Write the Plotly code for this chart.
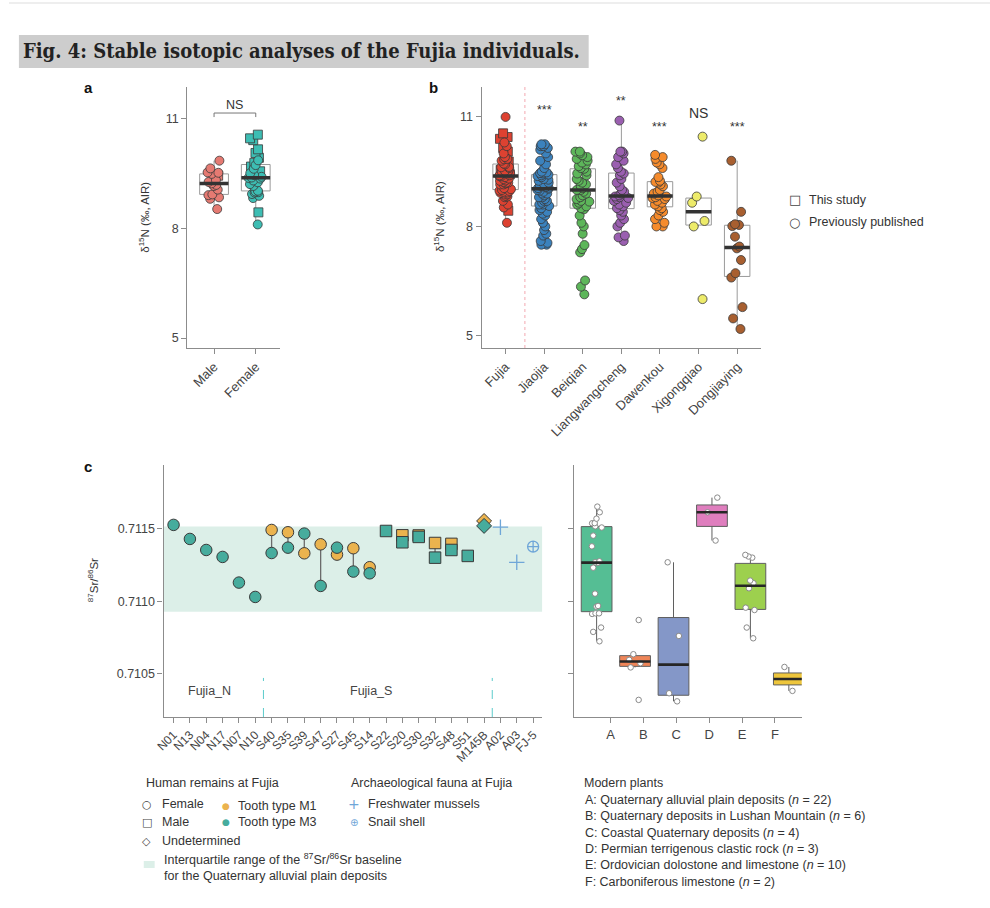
import numpy as np
import plotly.graph_objects as go

W, H = 990, 908
def px(x): return x / W
def py(y): return 1 - y / H

# ---------------- data: panel a (Fujia, by sex) ----------------
sex_groups = ["Male", "Female"]
male_circle = [9.84, 9.63, 9.52, 9.51, 9.48, 9.31, 9.26, 9.22, 9.18, 9.15, 9.05, 8.92, 8.90, 8.84, 8.80, 8.52]
male_square = [9.43]
female_square = [10.55, 10.45, 10.40, 10.15, 10.05, 9.92, 9.78, 9.68, 9.55, 9.30, 8.43]
female_circle = [9.85, 9.72, 9.62, 9.50, 9.45, 9.40, 9.38, 9.37, 9.35, 9.30, 9.25, 9.20, 9.15, 9.02,
                 8.98, 9.00, 8.97, 8.93, 8.88, 8.82, 8.10]
fujia_undetermined = [11.0, 10.3, 10.2, 10.0, 9.9, 9.8, 9.7, 9.6, 9.45, 9.4, 9.2, 8.95, 8.7, 8.6]

# ---------------- data: panel b (sites) ----------------
sites = ["Fujia", "Jiaojia", "Beiqian", "Liangwangcheng", "Dawenkou", "Xigongqiao", "Dongjiaying"]
jiaojia = [10.25, 10.25, 10.2, 10.2, 10.15, 10.1, 10.0, 9.9, 9.8, 9.7, 9.6, 9.5, 9.48, 9.46, 9.45, 9.42,
           9.4, 9.38, 9.35, 9.3, 9.28, 9.25, 9.2, 9.18, 9.15, 9.12, 9.1, 9.08, 9.06, 9.05, 9.03,
           9.0, 8.98, 8.95, 8.9, 8.9, 8.85, 8.8, 8.8, 8.75, 8.7, 8.7, 8.65, 8.6, 8.6, 8.56, 8.5,
           8.45, 8.4, 8.35, 8.3, 8.2, 8.1, 8.0, 7.9, 7.8, 7.75, 7.6, 7.55, 7.5, 7.5]
beiqian = [10.05, 10.05, 10.0, 9.95, 9.9, 9.85, 9.8, 9.75, 9.7, 9.65, 9.6, 9.58, 9.5, 9.45, 9.4, 9.3,
           9.25, 9.2, 9.15, 9.1, 9.05, 9.0, 9.0, 8.95, 8.9, 8.85, 8.8, 8.75, 8.7, 8.68, 8.65, 8.6,
           8.55, 8.5, 8.47, 8.3, 8.1, 8.0, 7.8, 7.49, 7.38, 7.29, 6.52, 6.35, 6.14]
liangwangcheng = [10.9, 10.05, 10.05, 10.0, 9.9, 9.8, 9.7, 9.6, 9.5, 9.45, 9.4, 9.3, 9.2, 9.1, 9.0,
                  8.95, 8.9, 8.85, 8.82, 8.8, 8.78, 8.75, 8.7, 8.65, 8.6, 8.55, 8.5, 8.45, 8.4, 8.3,
                  8.2, 8.1, 8.0, 7.75, 7.7, 7.6]
dawenkou = [9.96, 9.9, 9.85, 9.75, 9.7, 9.6, 9.35, 9.25, 9.22, 9.2, 9.15, 9.1, 9.0, 8.95, 8.9, 8.85,
            8.82, 8.8, 8.78, 8.75, 8.7, 8.65, 8.6, 8.55, 8.5, 8.45, 8.4, 8.3, 8.2, 8.1, 8.0, 8.0]
xigongqiao = [10.46, 8.82, 8.65, 8.15, 8.0, 6.01]
dongjiaying = [9.8, 8.4, 8.06, 8.04, 8.01, 7.72, 7.45, 7.4, 7.08, 6.72, 6.6, 5.79, 5.48, 5.19]
site_sig = ["", "***", "**", "**", "***", "NS", "***"]
site_sig_y = [None, 11.2, 10.73, 11.45, 10.73, 11.12, 10.73]

# ---------------- data: panel c (Sr isotopes) ----------------
individuals = ["N01", "N13", "N04", "N17", "N07", "N10", "S40", "S35", "S39", "S47", "S27", "S45",
               "S14", "S22", "S20", "S30", "S32", "S48", "S51", "M145B", "A02", "A03", "FJ-5"]
ind_sex = ["F"] * 13 + ["M"] * 6 + ["U"] + [None] * 3
sr_m1 = [None, None, None, None, None, None, 0.711493, 0.711477, 0.711332, 0.711394, 0.711323,
         0.711367, 0.711236, None, 0.711456, 0.711455, 0.711403, 0.711397, None, 0.711555,
         None, None, None]
sr_m3 = [0.711528, 0.711431, 0.711355, 0.711307, 0.711130, 0.711031, 0.711334, 0.711371, 0.711468,
         0.711107, 0.711371, 0.711206, 0.711194, 0.711486, 0.711408, 0.711445, 0.711302, 0.711355,
         0.711314, 0.711521, None, None, None]
fauna_ids = ["A02", "A03", "FJ-5"]
fauna_type = ["mussel", "mussel", "snail"]
fauna_sr = [0.711512, 0.711270, 0.711378]

plant_letters = ["A", "B", "C", "D", "E", "F"]
plant_names = ["Quaternary alluvial plain deposits", "Quaternary deposits in Lushan Mountain",
               "Coastal Quaternary deposits", "Permian terrigenous clastic rock",
               "Ordovician dolostone and limestone", "Carboniferous limestone"]
plant_sr = [
    [0.711654, 0.711615, 0.711571, 0.711539, 0.711540, 0.711510, 0.711518, 0.711454, 0.711380,
     0.711277, 0.711266, 0.711270, 0.711233, 0.711054, 0.710969, 0.710964, 0.710918, 0.710918,
     0.710914, 0.710820, 0.710790, 0.710725],
    [0.710872, 0.710636, 0.710597, 0.710574, 0.710545, 0.710321],
    [0.711270, 0.710762, 0.710367, 0.710311],
    [0.711716, 0.711615, 0.711420],
    [0.711321, 0.711310, 0.711302, 0.711144, 0.711126, 0.711091, 0.710941, 0.710957, 0.710820, 0.710746],
    [0.710548, 0.710383],
]

# ---------------- styles ----------------
FONT = "Liberation Sans, Arial, sans-serif"
SYM = "DejaVu Sans, Liberation Sans, sans-serif"
male_col, female_col = "#E57A72", "#3DBDB3"
site_cols = ["#DD4231", "#3B82BD", "#5DB65A", "#9A5FB0", "#F58B2C", "#EDEB6A", "#A85F30"]
m1_col, m3_col = "#EBB34E", "#46AC9D"
fauna_col = "#6FA6D8"
plant_cols = ["#55BE94", "#EF8558", "#8497C8", "#DF7EBE", "#9DD04E", "#EEC63C"]
outline = "#3a3a3a"

fig = go.Figure()


def box_stats(v):
    a = np.asarray(v, float)
    q1, med, q3 = np.percentile(a, [25, 50, 75])
    iqr = q3 - q1
    lf = a[a >= q1 - 1.5 * iqr].min()
    uf = a[a <= q3 + 1.5 * iqr].max()
    return q1, med, q3, lf, uf


def add_box(i, vals, xa, ya, width, fill, line_color, med_color, med_width):
    q1, med, q3, lf, uf = box_stats(vals)
    fig.add_trace(go.Box(x=[i], q1=[q1], median=[med], q3=[q3], lowerfence=[lf], upperfence=[uf],
                         width=width, fillcolor=fill, line=dict(color=line_color, width=1),
                         whiskerwidth=0, boxpoints=False, xaxis=xa, yaxis=ya,
                         showlegend=False, hoverinfo="skip"))
    fig.add_trace(go.Scatter(x=[i - width / 2, i + width / 2], y=[med, med], mode="lines",
                             line=dict(color=med_color, width=med_width), xaxis=xa, yaxis=ya,
                             showlegend=False, hoverinfo="skip"))


def add_points(i, vals, xa, ya, width, color, symbol, size, jitter, lcol=outline, lw=0.8):
    if not vals:
        return
    fig.add_trace(go.Box(x=[i] * len(vals), y=vals, boxpoints="all", pointpos=0, jitter=jitter,
                         width=width, fillcolor="rgba(0,0,0,0)",
                         line=dict(color="rgba(0,0,0,0)", width=0),
                         marker=dict(color=color, symbol=symbol, size=size,
                                     line=dict(color=lcol, width=lw)),
                         xaxis=xa, yaxis=ya, showlegend=False, hoverinfo="skip"))


# ---------------- panel a ----------------
a_groups = [(male_circle + male_square, male_circle, male_square, male_col),
            (female_circle + female_square, female_circle, female_square, female_col)]
for i, (allv, circ, sq, col) in enumerate(a_groups):
    add_box(i, allv, "x", "y", 0.69, "rgba(255,255,255,0)", "#9a9a9a", "#333333", 3.5)
    add_points(i, sq, "x", "y", 0.69, col, "square", 9, 0.55)
    add_points(i, circ, "x", "y", 0.69, col, "circle", 9, 0.55)

# ---------------- panel b ----------------
fujia_sq = male_square + female_square
fujia_circ = male_circle + female_circle + fujia_undetermined
site_vals = [fujia_sq + fujia_circ, jiaojia, beiqian, liangwangcheng, dawenkou, xigongqiao, dongjiaying]
for i, vals in enumerate(site_vals):
    add_box(i, vals, "x2", "y2", 0.66, "rgba(255,255,255,0)", "#9a9a9a", "#333333", 3.5)
    if i == 0:
        add_points(i, fujia_sq, "x2", "y2", 0.66, site_cols[i], "square", 9, 0.6)
        add_points(i, fujia_circ, "x2", "y2", 0.66, site_cols[i], "circle", 9, 0.6)
    else:
        add_points(i, vals, "x2", "y2", 0.66, site_cols[i], "circle", 9, 0.6)

# ---------------- panel c left ----------------
sym_map = {"F": "circle", "M": "square", "U": "diamond"}
lx, ly = [], []
for name, a, b in zip(individuals, sr_m1, sr_m3):
    if a is not None and b is not None:
        lx += [name, name, None]
        ly += [a, b, None]
fig.add_trace(go.Scatter(x=lx, y=ly, mode="lines", line=dict(color="#6b6b6b", width=1.3),
                         xaxis="x3", yaxis="y3", showlegend=False, hoverinfo="skip"))
for vals, col in [(sr_m1, m1_col), (sr_m3, m3_col)]:
    xs = [n for n, v in zip(individuals, vals) if v is not None]
    ys = [v for v in vals if v is not None]
    syms = [sym_map[s] for s, v in zip(ind_sex, vals) if v is not None]
    fig.add_trace(go.Scatter(x=xs, y=ys, mode="markers",
                             marker=dict(color=col, symbol=syms, size=11.5,
                                         line=dict(color=outline, width=1)),
                             xaxis="x3", yaxis="y3", showlegend=False, hoverinfo="skip"))
fsym = {"mussel": "cross-thin", "snail": "circle-cross-open"}
fig.add_trace(go.Scatter(x=fauna_ids, y=fauna_sr, mode="markers",
                         marker=dict(color=fauna_col, symbol=[fsym[t] for t in fauna_type], size=11,
                                     line=dict(color=fauna_col, width=1.3)),
                         xaxis="x3", yaxis="y3", showlegend=False, hoverinfo="skip"))

# ---------------- panel c right ----------------
for i, vals in enumerate(plant_sr):
    add_box(i, vals, "x4", "y4", 0.8, plant_cols[i], "#5f5f5f", "#262626", 2.6)
    add_points(i, vals, "x4", "y4", 0.8, "white", "circle", 5.5, 0.45, lcol="#8a8a8a", lw=1)
# invisible trace to carry the category tick axis
fig.add_trace(go.Scatter(x=plant_letters, y=[None] * len(plant_letters), mode="markers",
                         xaxis="x5", yaxis="y4", showlegend=False, hoverinfo="skip"))

# ---------------- layout ----------------
ax = dict(showline=True, linecolor="#8c8c8c", linewidth=1.2, ticks="outside", tickcolor="#8c8c8c",
          ticklen=5, tickwidth=1.2, showgrid=False, zeroline=False,
          tickfont=dict(size=12.5, color="#444", family=FONT))

ya_dom = [py(348), py(87)]
yc_dom = [py(717), py(465)]

layout = dict(
    width=W, height=H, margin=dict(l=0, r=0, t=0, b=0), autosize=False,
    paper_bgcolor="white", plot_bgcolor="white", font=dict(family=FONT, color="#333"),
    boxmode="overlay",
    xaxis=dict(ax, domain=[px(180), px(273)], range=[-0.64, 1.57], tickvals=list(range(len(sex_groups))),
               ticktext=sex_groups, tickangle=-45, anchor="y",
               tickfont=dict(size=13, color="#444", family=FONT)),
    yaxis=dict(ax, domain=ya_dom, range=[4.73, 11.85], tickvals=[5, 8, 11], anchor="x"),
    xaxis2=dict(ax, domain=[px(477), px(759)], range=[-0.62, 6.62], tickvals=list(range(len(sites))),
                ticktext=sites, tickangle=-45, anchor="y2",
                tickfont=dict(size=13, color="#444", family=FONT)),
    yaxis2=dict(ax, domain=ya_dom, range=[4.67, 11.82], tickvals=[5, 8, 11], anchor="x2"),
    xaxis3=dict(ax, domain=[px(156), px(538)], type="category", categoryorder="array",
                categoryarray=individuals, range=[-0.61, 22.55], tickangle=-45,
                tickfont=dict(size=12, color="#444", family=FONT), anchor="y3"),
    yaxis3=dict(ax, domain=yc_dom, range=[0.710203, 0.711941], tickvals=[0.7105, 0.711, 0.7115],
                tickformat=".4f", anchor="x3"),
    xaxis4=dict(ax, domain=[px(570), px(800)], range=[-0.593, 5.335], showticklabels=False,
                ticks="", anchor="y4"),
    yaxis4=dict(ax, domain=yc_dom, range=[0.710203, 0.711941], tickvals=[0.7105, 0.711, 0.7115],
                showticklabels=False, anchor="x4"),
    xaxis5=dict(ax, domain=[px(570), px(800)], type="category", categoryorder="array",
                categoryarray=plant_letters, range=[-1.114, 5.813], showline=False,
                overlaying="x4", anchor="y4", tickfont=dict(size=13, color="#444", family=FONT)),
)

shapes = []
annotations = []

# top rule and title bar
shapes.append(dict(type="line", xref="paper", yref="paper", x0=0, x1=1, y0=py(3), y1=py(3),
                   line=dict(color="#dddddd", width=1)))
shapes.append(dict(type="rect", xref="paper", yref="paper", x0=px(10), x1=px(585), y0=py(68), y1=py(35),
                   fillcolor="#cdcdcd", line=dict(width=0), layer="below"))
annotations.append(dict(text="<b>Fig. 4: Stable isotopic analyses of the Fujia individuals.</b>",
                        xref="paper", yref="paper", x=px(12), y=py(51), xanchor="left", yanchor="middle",
                        showarrow=False,
                        font=dict(family="DejaVu Serif Condensed, DejaVu Serif, serif", size=20, color="#222")))

# panel letters
for t, x, y in [("a", 80, 88), ("b", 428, 88), ("c", 80, 466)]:
    annotations.append(dict(text=f"<b>{t}</b>", xref="paper", yref="paper", x=px(x), y=py(y),
                            xanchor="center", yanchor="middle", showarrow=False,
                            font=dict(size=15, color="#111", family=FONT)))

# y titles
for t, x, y in [("δ<sup>15</sup>N (‰, AIR)", 136, 217), ("δ<sup>15</sup>N (‰, AIR)", 434, 217),
                ("<sup>87</sup>Sr/<sup>86</sup>Sr", 85, 580)]:
    annotations.append(dict(text=t, xref="paper", yref="paper", x=px(x), y=py(y), textangle=-90,
                            xanchor="center", yanchor="middle", showarrow=False,
                            font=dict(size=11.5, color="#333", family=FONT)))

# panel a NS bracket
shapes.append(dict(type="path", xref="x", yref="y", path="M 0,11.03 L 0,11.14 L 1,11.14 L 1,11.03",
                   line=dict(color="#777", width=1)))
annotations.append(dict(text="NS", xref="x", yref="y", x=0.5, y=11.36, showarrow=False,
                        font=dict(size=12.5, color="#333")))

# panel b significance + divider
for i, (s, y) in enumerate(zip(site_sig, site_sig_y)):
    if s:
        annotations.append(dict(text=s, xref="x2", yref="y2", x=i, y=y, showarrow=False,
                                yanchor="middle",
                                font=dict(size=14 if s == "NS" else 12.5, color="#333")))
shapes.append(dict(type="line", xref="x2", yref="y2 domain", x0=0.5, x1=0.5, y0=0, y1=1,
                   line=dict(color="#f3a9b1", width=1, dash="dot")))

# panel b legend
for sym, t, y in [("□", "This study", 200), ("○", "Previously published", 222)]:
    annotations.append(dict(text=sym, xref="paper", yref="paper", x=px(793), y=py(y), showarrow=False,
                            xanchor="center", yanchor="middle", font=dict(size=13, family=SYM, color="#444")))
    annotations.append(dict(text=t, xref="paper", yref="paper", x=px(805), y=py(y), showarrow=False,
                            xanchor="left", yanchor="middle", font=dict(size=12.5, color="#333")))

# panel c baseline band (IQR of group A) and group dividers
qa1, _, qa3, _, _ = box_stats(plant_sr[0])
shapes.append(dict(type="rect", xref="x3 domain", yref="y3", x0=0, x1=1, y0=qa1, y1=qa3,
                   fillcolor="#dcefe8", line=dict(width=0), layer="below"))
for xv in [5.5, 19.5]:
    shapes.append(dict(type="line", xref="x3", yref="y3 domain", x0=xv, x1=xv, y0=0, y1=0.155,
                       line=dict(color="#5ccbcb", width=1, dash="dash")))
annotations.append(dict(text="Fujia_N", xref="x3", yref="y3", x=2.2, y=0.710383, showarrow=False,
                        font=dict(size=12.5, color="#444")))
annotations.append(dict(text="Fujia_S", xref="x3", yref="y3", x=12.1, y=0.710383, showarrow=False,
                        font=dict(size=12.5, color="#444")))


def txt(t, x, y, size=12.5, color="#333", family=FONT, anchor="left"):
    annotations.append(dict(text=t, xref="paper", yref="paper", x=px(x), y=py(y), showarrow=False,
                            xanchor=anchor, yanchor="middle", font=dict(size=size, color=color, family=family)))


# panel c legends
txt("Human remains at Fujia", 136, 783)
txt("Archaeological fauna at Fujia", 343, 783)
txt("○", 139, 804, 11, "#444", SYM, "center"); txt("Female", 152, 804)
txt("□", 139, 822, 11, "#444", SYM, "center"); txt("Male", 152, 822)
txt("◇", 139, 841, 11, "#444", SYM, "center"); txt("Undetermined", 152, 841)
txt("●", 219, 806, 9, m1_col, SYM, "center"); txt("Tooth type M1", 229, 806)
txt("●", 219, 822, 9, m3_col, SYM, "center"); txt("Tooth type M3", 229, 822)
txt("+", 348, 804, 14, fauna_col, SYM, "center"); txt("Freshwater mussels", 360, 804)
txt("⊕", 348, 822, 10, fauna_col, SYM, "center"); txt("Snail shell", 360, 822)
shapes.append(dict(type="rect", xref="paper", yref="paper", x0=px(136), x1=px(147), y0=py(868), y1=py(861),
                   fillcolor="#dcefe8", line=dict(width=0)))
txt("Interquartile range of the <sup>87</sup>Sr/<sup>86</sup>Sr baseline", 154, 859)
txt("for the Quaternary alluvial plain deposits", 154, 876)

txt("Modern plants", 578, 783)
for k, (L, name, vals) in enumerate(zip(plant_letters, plant_names, plant_sr)):
    txt(f"{L}: {name} (<i>n</i> = {len(vals)})", 579, 800 + k * 16.3)

layout["shapes"] = shapes
layout["annotations"] = annotations
fig.update_layout(**layout)
fig.write_html("out.html")
